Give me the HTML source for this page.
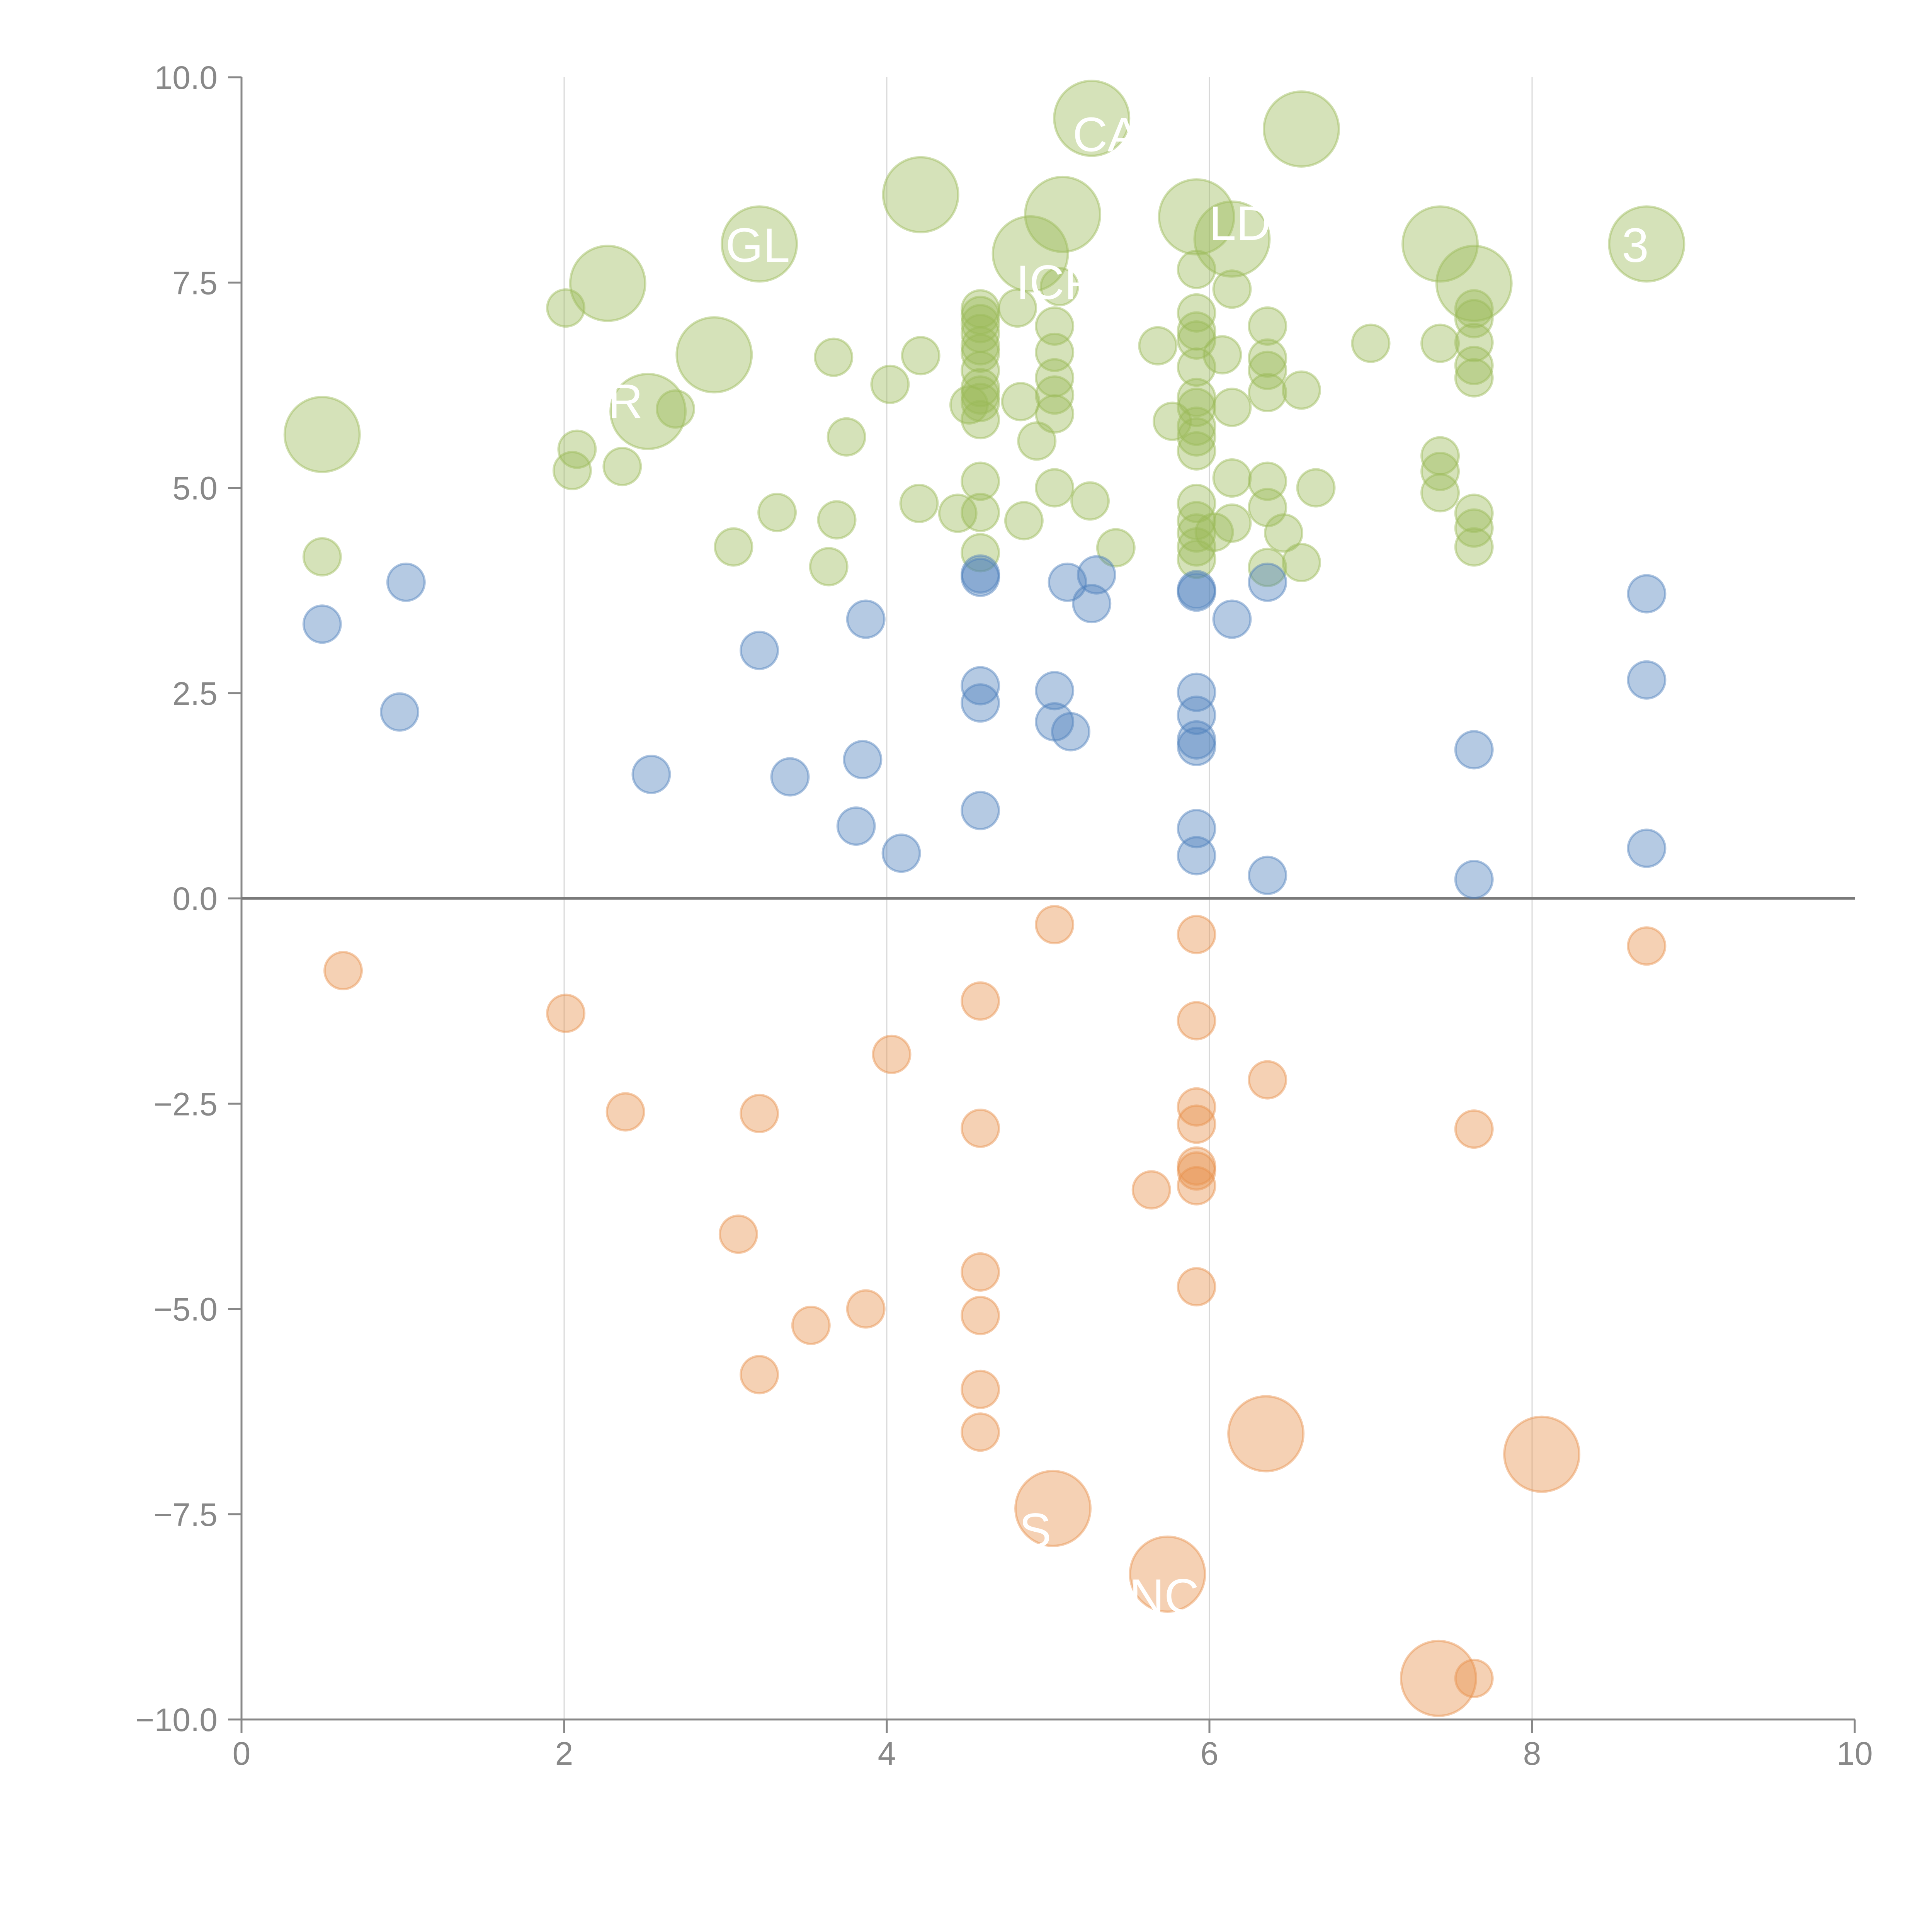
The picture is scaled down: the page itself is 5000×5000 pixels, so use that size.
<!DOCTYPE html>
<html><head><meta charset="utf-8"><style>
html,body{margin:0;padding:0;background:#fff;}
svg{display:block;font-family:"Liberation Sans",sans-serif;}
</style></head>
<body>
<svg id="chart" width="5000" height="5000" viewBox="0 0 5000 5000" xmlns="http://www.w3.org/2000/svg">
<rect width="5000" height="5000" fill="#fff"/>
<g id="grid"></g>
<g id="axes"></g>
<g id="marks"></g>
<g id="labels"></g>
</svg>
<script>
const xTicks = [0, 2, 4, 6, 8, 10];
const xTickLabels = ["0", "2", "4", "6", "8", "10"];
const yTicks = [10, 7.5, 5, 2.5, 0, -2.5, -5, -7.5, -10];
const yTickLabels = ["10.0", "7.5", "5.0", "2.5", "0.0", "\u22122.5", "\u22125.0", "\u22127.5", "\u221210.0"];

const greenBigX = [0.50,2.27,2.52,2.93,3.21,4.21,4.89,5.09,5.27,5.92,6.14,6.57,7.43,7.64,8.71];
const greenBigY = [5.65,7.49,5.93,6.62,7.97,8.57,7.85,8.33,9.50,8.30,8.03,9.37,7.97,7.49,7.97];

const greenX = [0.50,2.01,2.08,2.05,2.36,2.69,3.05,3.32,3.67,3.64,3.69,3.75,4.02,4.21,4.20,4.44,
 4.58,4.58,4.58,4.58,4.58,4.58,4.58,4.58,4.58,4.58,4.58,4.58,4.58,4.58,
 4.51,4.81,4.83,4.85,4.93,5.04,5.04,5.04,5.04,5.04,5.04,5.07,5.26,5.42,5.68,5.77,
 5.92,5.92,5.92,5.92,5.92,5.92,5.92,5.92,5.92,5.92,5.92,5.92,5.92,5.92,5.92,
 6.03,6.08,6.14,6.14,6.14,6.14,6.36,6.36,6.36,6.36,6.36,6.36,6.36,6.46,6.57,6.57,6.66,7.0,
 7.43,7.43,7.43,7.43,7.64,7.64,7.64,7.64,7.64,7.64,7.64,7.64];
const greenY = [4.16,7.19,5.47,5.21,5.26,5.96,4.28,4.70,6.59,4.04,4.61,5.62,6.26,6.61,4.81,4.69,
 7.18,7.10,7.0,6.88,6.73,6.64,6.43,6.22,6.13,6.04,5.83,5.08,4.70,4.21,
 6.01,7.19,6.05,4.60,5.57,6.97,6.65,6.34,6.13,5.90,5.0,7.45,4.84,4.27,6.73,5.81,
 7.66,7.13,6.91,6.80,6.47,6.10,5.98,5.75,5.62,5.45,4.81,4.60,4.45,4.28,4.13,
 4.46,6.62,7.42,5.98,5.12,4.57,6.97,6.58,6.43,6.16,5.08,4.76,4.03,4.45,6.19,4.09,5.0,6.76,
 6.76,5.39,5.20,4.94,7.18,7.06,6.77,6.49,6.34,4.69,4.51,4.28];

const blueX = [0.50,1.02,0.98,2.54,3.21,3.40,3.87,3.85,3.81,4.09,4.58,4.58,4.58,4.58,4.58,
 5.04,5.04,5.12,5.14,5.27,5.30,5.92,5.92,5.92,5.92,5.92,5.92,5.92,5.92,
 6.14,6.36,6.36,7.64,7.64,8.71,8.71,8.71];
const blueY = [3.34,3.85,2.27,1.51,3.02,1.48,3.40,1.69,0.88,0.55,3.95,3.91,2.59,2.38,1.07,
 2.53,2.15,3.85,2.03,3.59,3.94,3.76,3.73,2.51,2.23,1.93,1.85,0.85,0.52,
 3.40,3.85,0.28,1.81,0.23,3.71,2.66,0.61];

const orangeX = [0.63,2.01,2.38,3.21,3.08,3.53,3.87,3.21,4.03,4.58,4.58,4.58,4.58,4.58,4.58,
 5.04,5.64,5.92,5.92,5.92,5.92,5.92,5.92,5.92,5.92,6.36,7.64,7.64,8.71];
const orangeY = [-0.88,-1.40,-2.60,-2.62,-4.09,-5.20,-5.0,-5.80,-1.90,-1.25,-2.80,-4.55,-5.08,-5.98,-6.50,
 -0.32,-3.55,-0.44,-1.49,-2.54,-2.75,-3.26,-3.32,-3.50,-4.73,-2.21,-2.81,-9.50,-0.58];

const orangeBigX = [6.35,8.06,5.03,5.74,7.42];
const orangeBigY = [-6.52,-6.77,-7.43,-8.23,-9.50];

const labelText = ["CA","LD","GL","ICP","R","3","NC","S"];
const labelX = [5.36,6.19,3.20,5.05,2.38,8.64,5.72,4.92];
const labelY = [9.30,8.22,7.95,7.50,6.05,7.95,-8.50,-7.70];

const NS = "http://www.w3.org/2000/svg";
const X = v => 625 + v * 417.5;
const Y = v => 2325 - v * 212.5;
function mk(tag, parent, attrs) {
  const e = document.createElementNS(NS, tag);
  for (const k in attrs) e.setAttribute(k, attrs[k]);
  parent.appendChild(e);
  return e;
}
const grid = document.getElementById('grid');
const axes = document.getElementById('axes');
const marks = document.getElementById('marks');
const labels = document.getElementById('labels');

xTicks.forEach((t, i) => {
  if (t > 0 && t < 10) {
    const g = mk('line', grid, {x1: X(t), x2: X(t), y1: Y(10), y2: Y(-10), stroke: '#d8d8d8', 'stroke-width': 3});
    
    
  }
  const tk = mk('line', axes, {x1: X(t), x2: X(t), y1: Y(-10), y2: Y(-10) + 35, stroke: '#888', 'stroke-width': 5});
  
  
  const tl = mk('text', axes, {x: X(t), y: Y(-10) + 117, 'text-anchor': 'middle', 'font-size': 84, fill: '#888'});
  tl.textContent = xTickLabels[i];
  
  
});
yTicks.forEach((t, i) => {
  const tk = mk('line', axes, {x1: 590, x2: X(0), y1: Y(t), y2: Y(t), stroke: '#888', 'stroke-width': 5});
  
  
  const tl = mk('text', axes, {x: 563, y: Y(t) + 30, 'text-anchor': 'end', 'font-size': 84, fill: '#888'});
  tl.textContent = yTickLabels[i];
  
  
});
const ya = mk('line', axes, {x1: X(0), x2: X(0), y1: Y(10), y2: Y(-10), stroke: '#888', 'stroke-width': 5});


const xa = mk('line', axes, {x1: X(0), x2: X(10), y1: Y(-10), y2: Y(-10), stroke: '#888', 'stroke-width': 5});


const zl = mk('line', axes, {x1: X(0), x2: X(10), y1: Y(0), y2: Y(0), stroke: '#7a7a7a', 'stroke-width': 7});



function drawSeries(xs, ys, r, color, name) {
  xs.forEach((xv, i) => {
    const c = mk('circle', marks, {cx: X(xv), cy: Y(ys[i]), r: r, fill: color, 'fill-opacity': 0.42, stroke: color, 'stroke-opacity': 0.45, 'stroke-width': 6});
    
    
  });
}
drawSeries(greenX, greenY, 48, '#9bbb59', 'green-bubble');
drawSeries(blueX, blueY, 48, '#4f81bd', 'blue-bubble');
drawSeries(orangeX, orangeY, 48, '#e8914c', 'orange-bubble');
drawSeries(greenBigX, greenBigY, 97, '#9bbb59', 'green-large-bubble');
drawSeries(orangeBigX, orangeBigY, 97, '#e8914c', 'orange-large-bubble');

labelText.forEach((t, i) => {
  const tx = mk('text', labels, {x: X(labelX[i]), y: Y(labelY[i]), 'text-anchor': 'middle', 'dominant-baseline': 'central', 'font-size': 125, fill: '#fff'});
  tx.textContent = t;
  
  
});
</script>
</body></html>
